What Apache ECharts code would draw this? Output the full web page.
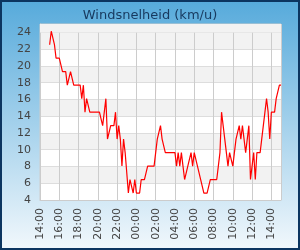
<!DOCTYPE html>
<html>
<head>
<meta charset="utf-8">
<script src="https://cdn.jsdelivr.net/npm/echarts@6/dist/echarts.min.js"></script>
<style>
html,body{margin:0;padding:0;}
#c{width:300px;height:250px;}
</style>
</head>
<body>
<div id="c"></div>
<script>
// ---- data ----
const titleText = 'Windsnelheid (km/u)';
const axisStartHour = 14;          // x axis starts at 14:00
const firstSampleHour = 15;        // first measurement at 15:00
const sampleStepMinutes = 10;      // one measurement every 10 minutes
const xTickLabels = ['14:00','16:00','18:00','20:00','22:00','00:00','02:00','04:00','06:00','08:00','10:00','12:00','14:00'];
const yTickLabels = ['4','6','8','10','12','14','16','18','20','22','24'];
const windSpeed = [
  22.53,24.14,24.14,22.53,20.92,20.92,20.92,20.92,19.31,19.31,
  19.31,17.70,17.70,19.31,19.31,17.70,17.70,17.70,17.70,17.70,
  16.09,17.70,14.48,16.09,16.09,14.48,14.48,14.48,14.48,14.48,
  14.48,14.48,14.48,12.87,14.48,16.09,11.27,11.27,12.87,12.87,
  12.87,14.48,11.27,12.87,11.27,8.05,11.27,9.66,9.66,4.83,
  6.44,6.44,4.83,6.44,4.83,4.83,4.83,6.44,6.44,6.44,
  6.44,8.05,8.05,8.05,8.05,8.05,8.05,11.27,11.27,12.87,
  11.27,11.27,9.66,9.66,9.66,9.66,9.66,9.66,9.66,8.05,
  9.66,8.05,9.66,8.05,6.44,6.44,8.05,8.05,9.66,8.05,
  9.66,9.66,8.05,8.05,6.44,6.44,4.83,4.83,4.83,4.83,
  6.44,6.44,6.44,6.44,6.44,8.05,9.66,14.48,12.87,11.27,
  11.27,8.05,9.66,9.66,8.05,9.66,11.27,11.27,12.87,11.27,
  12.87,11.27,9.66,11.27,12.87,6.44,8.05,9.66,6.44,9.66,
  9.66,9.66,11.27,11.27,14.48,16.09,14.48,11.27,14.48,14.48,
  14.48,16.09,16.09,17.70,17.70
];

// build [hoursSinceAxisStart, value] pairs
const seriesData = windSpeed.map((v, i) => [
  (firstSampleHour - axisStartHour) + i * sampleStepMinutes / 60, v
]);

const chart = echarts.init(document.getElementById('c'), null, {renderer: 'canvas'});
const labelFont = {fontFamily: 'DejaVu Sans', fontSize: 11, color: '#444'};
chart.setOption({
  animation: false,
  backgroundColor: {
    type: 'linear', x: 0, y: 0, x2: 0, y2: 1,
    colorStops: [{offset: 0, color: '#56aadb'}, {offset: 1, color: '#f2f8fc'}]
  },
  title: {
    text: titleText, left: 'center', top: 4,
    textStyle: {fontFamily: 'DejaVu Sans', fontSize: 13, fontWeight: 'normal', color: '#17395e'}
  },
  graphic: [{
    type: 'rect', silent: true, z: 100,
    shape: {x: 1, y: 1, width: 298, height: 248},
    style: {fill: null, stroke: '#0c3560', lineWidth: 2}
  }],
  grid: {left: 40, top: 24, right: 19, bottom: 50, show: true, borderColor: '#cccccc', borderWidth: 1, backgroundColor: 'transparent'},
  xAxis: {
    type: 'value', min: 0, max: 25, interval: 2,
    axisLine: {show: true, lineStyle: {color: '#cccccc'}},
    axisTick: {show: false},
    splitLine: {show: true, lineStyle: {color: '#cccccc', width: 1}},
    axisLabel: Object.assign({
      rotate: 90, margin: 8, showMaxLabel: false,
      formatter: v => (v % 2 === 0 && xTickLabels[v / 2] !== undefined) ? xTickLabels[v / 2] : ''
    }, labelFont)
  },
  yAxis: {
    type: 'value', min: 4, max: 25, interval: 2,
    axisLine: {show: true, lineStyle: {color: '#cccccc'}},
    axisTick: {show: false},
    splitLine: {show: true, lineStyle: {color: '#dddddd', width: 1}},
    splitArea: {show: true, areaStyle: {color: ['#ffffff', '#f2f2f2']}},
    axisLabel: Object.assign({
      margin: 9, showMaxLabel: false,
      formatter: v => yTickLabels.indexOf(String(v)) >= 0 ? String(v) : ''
    }, labelFont)
  },
  series: [{
    type: 'line', data: seriesData, showSymbol: false,
    lineStyle: {color: '#ff0000', width: 1.2},
    itemStyle: {color: '#ff0000'},
    markArea: {silent: true, itemStyle: {color: '#f2f2f2'}, data: [[{yAxis: 24}, {yAxis: 25}]]},
    z: 5
  }]
});
</script>
</body>
</html>
